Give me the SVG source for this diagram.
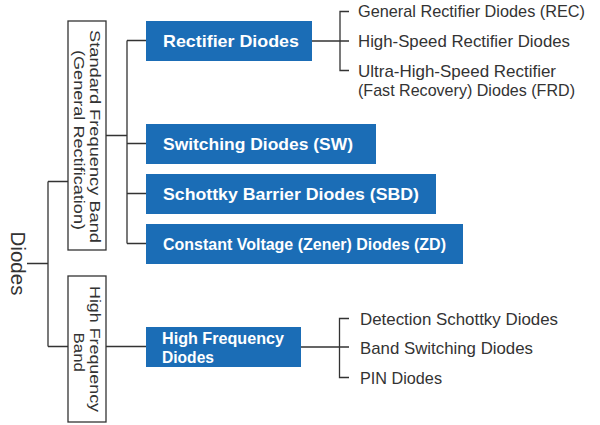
<svg xmlns="http://www.w3.org/2000/svg" width="600" height="425" viewBox="0 0 600 425">
<style>
.ln{fill:none;stroke:#333;stroke-width:1.3}
.band{fill:#fff;stroke:#333;stroke-width:1.3}
.blue{fill:#1b6db6}
.bt{font-family:"Liberation Sans",Arial,sans-serif;font-weight:bold;font-size:17px;fill:#fff}
.lt{font-family:"Liberation Sans",Arial,sans-serif;font-size:17px;fill:#333}
.vt{font-family:"Liberation Sans",Arial,sans-serif;font-size:15px;fill:#333}
.root{font-family:"Liberation Sans",Arial,sans-serif;font-size:21px;fill:#333}
</style>
<rect width="600" height="425" fill="#fff"/>
<g id="connectors">
<path class="ln" d="M27 263.5H48M48 181.5V346.5M48 181.5H68M48 346.5H68"/>
<path class="ln" d="M106 135.5H127M127 40.5V243.5M127 40.5H146M127 143.5H146M127 193.5H146M127 243.5H146"/>
<path class="ln" d="M312 41H349M349 11.5H340V70.5H349"/>
<path class="ln" d="M106 346.5H146M301 347H349M349 318.5H339.5V377.5H349"/>
</g>
<g id="root">
<text class="root" transform="translate(10.5,231.5) rotate(90)" textLength="64" lengthAdjust="spacingAndGlyphs">Diodes</text>
</g>
<g id="standard-band">
<rect class="band" x="68" y="21" width="38" height="229"/>
<text class="vt" transform="translate(89.5,30) rotate(90)" textLength="213" lengthAdjust="spacingAndGlyphs">Standard Frequency Band</text>
<text class="vt" transform="translate(74,50) rotate(90)" textLength="180" lengthAdjust="spacingAndGlyphs">(General Rectification)</text>
</g>
<g id="high-band">
<rect class="band" x="68" y="276" width="38" height="146"/>
<text class="vt" transform="translate(89.5,286) rotate(90)" textLength="126" lengthAdjust="spacingAndGlyphs">High Frequency</text>
<text class="vt" transform="translate(74,332.5) rotate(90)" textLength="39.5" lengthAdjust="spacingAndGlyphs">Band</text>
</g>
<g id="rectifier">
<rect class="blue" x="146" y="21" width="166" height="40"/>
<text class="bt" x="163" y="46.5" textLength="136" lengthAdjust="spacingAndGlyphs">Rectifier Diodes</text>
</g>
<g id="switching">
<rect class="blue" x="146" y="124" width="230" height="40"/>
<text class="bt" x="163" y="149.5" textLength="190" lengthAdjust="spacingAndGlyphs">Switching Diodes (SW)</text>
</g>
<g id="schottky">
<rect class="blue" x="146" y="174" width="290" height="40"/>
<text class="bt" x="163" y="199.5" textLength="256" lengthAdjust="spacingAndGlyphs">Schottky Barrier Diodes (SBD)</text>
</g>
<g id="zener">
<rect class="blue" x="146" y="224" width="317" height="40"/>
<text class="bt" x="163" y="249.5" textLength="283" lengthAdjust="spacingAndGlyphs">Constant Voltage (Zener) Diodes (ZD)</text>
</g>
<g id="hf-diodes">
<rect class="blue" x="146" y="327" width="155" height="40"/>
<text class="bt" x="162" y="344" textLength="122" lengthAdjust="spacingAndGlyphs">High Frequency</text>
<text class="bt" x="162" y="362.5" textLength="52" lengthAdjust="spacingAndGlyphs">Diodes</text>
</g>
<g id="rectifier-types">
<text class="lt" x="358" y="17" textLength="227" lengthAdjust="spacingAndGlyphs">General Rectifier Diodes (REC)</text>
<text class="lt" x="358" y="47" textLength="212" lengthAdjust="spacingAndGlyphs">High-Speed Rectifier Diodes</text>
<text class="lt" x="358" y="77" textLength="198" lengthAdjust="spacingAndGlyphs">Ultra-High-Speed Rectifier</text>
<text class="lt" x="358" y="96" textLength="217" lengthAdjust="spacingAndGlyphs">(Fast Recovery) Diodes (FRD)</text>
</g>
<g id="hf-types">
<text class="lt" x="360" y="325" textLength="198" lengthAdjust="spacingAndGlyphs">Detection Schottky Diodes</text>
<text class="lt" x="360" y="354" textLength="173" lengthAdjust="spacingAndGlyphs">Band Switching Diodes</text>
<text class="lt" x="360" y="383.5" textLength="82" lengthAdjust="spacingAndGlyphs">PIN Diodes</text>
</g>
</svg>
